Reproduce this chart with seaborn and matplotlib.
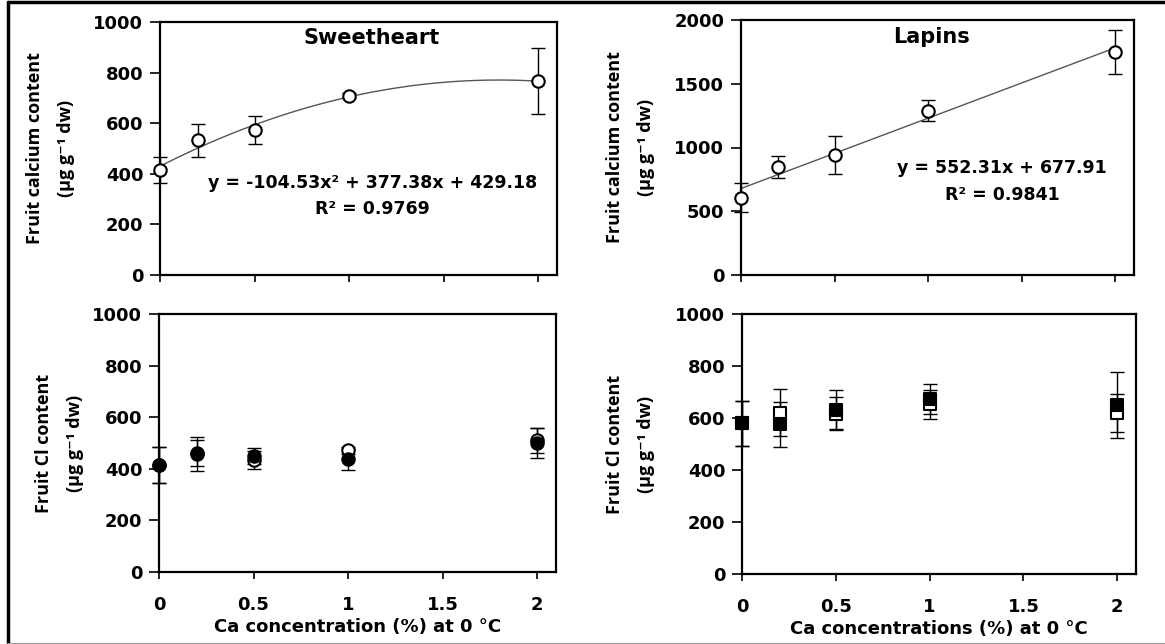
import matplotlib
matplotlib.use("Agg")
import matplotlib.pyplot as plt
import seaborn as sns
import pandas as pd
from matplotlib.lines import Line2D

# Ca concentrations applied (%)
conc = [0, 0.2, 0.5, 1, 2]

# Fruit calcium content (ug/g dw)
sweet_ca = [415, 533, 573, 708, 766]
sweet_ca_err = [53, 65, 55, 10, 131]
lapins_ca = [607, 848, 940, 1288, 1751]
lapins_ca_err = [115, 86, 147, 81, 172]

# Fruit Cl content (ug/g dw), open and filled series
sweet_cl_open = [414, 460, 435, 471, 510]
sweet_cl_open_err = [70, 50, 35, 15, 50]
sweet_cl_fill = [414, 458, 450, 437, 500]
sweet_cl_fill_err = [70, 65, 30, 40, 60]
lapins_cl_open = [579, 620, 617, 652, 620]
lapins_cl_open_err = [88, 90, 62, 55, 73]
lapins_cl_fill = [579, 576, 632, 672, 650]
lapins_cl_fill_err = [88, 87, 75, 57, 126]

xticks = [0, 0.5, 1, 1.5, 2]
sweet_eq = "y = -104.53x² + 377.38x + 429.18"
sweet_r2 = "R² = 0.9769"
lapins_eq = "y = 552.31x + 677.91"
lapins_r2 = "R² = 0.9841"

sns.set_style("ticks")
plt.rcParams['font.family'] = ['DejaVu Sans']
plt.rcParams['font.weight'] = 'bold'
for key in ['text.color', 'axes.labelcolor', 'xtick.color', 'ytick.color', 'axes.edgecolor']:
    plt.rcParams[key] = 'black'

W, H = 1165, 644
fig = plt.figure(figsize=(W / 100, H / 100), dpi=100)


def box(x0, x1, y0, y1):
    return [x0 / W, 1 - y1 / H, (x1 - x0) / W, (y1 - y0) / H]


ax_tl = fig.add_axes(box(160, 557, 22, 275))
ax_tr = fig.add_axes(box(741, 1134, 20, 275))
ax_bl = fig.add_axes(box(159, 556, 314, 572))
ax_br = fig.add_axes(box(742, 1136, 314, 574))

ylab_font = dict(family=['Open Sans', 'DejaVu Sans'], fontsize=13, fontweight='bold', linespacing=1.9)


def style(ax, ymax, ystep, show_x):
    ax.set_xlim(0, 2.1)
    ax.set_ylim(0, ymax)
    ax.set_xticks(xticks)
    ax.set_yticks(range(0, ymax + 1, ystep))
    ax.set_xticklabels(['0', '0.5', '1', '1.5', '2'] if show_x else [])
    for s in ax.spines.values():
        s.set_linewidth(1.6)
        s.set_color('black')
    ax.tick_params(axis='y', direction='out', length=7, width=1.2, labelsize=13, pad=5)
    ax.tick_params(axis='x', direction='out', length=5, width=1.2, labelsize=13, pad=12)
    for lab in ax.get_xticklabels() + ax.get_yticklabels():
        lab.set_fontweight('bold')
    ax.set_xlabel('')


def errs(ax, y, e):
    ax.errorbar(conc, y, yerr=e, fmt='none', ecolor='black', elinewidth=1,
                capsize=5, capthick=1, clip_on=False, zorder=2)


def pts(ax, y, marker, filled, z):
    df = pd.DataFrame({'conc': conc, 'val': y})
    sns.scatterplot(data=df, x='conc', y='val', ax=ax, marker=marker, s=85 if marker == 's' else 80,
                    facecolor='black' if filled else 'white', edgecolor='black',
                    linewidth=1.5, clip_on=False, zorder=z)


# top left: Sweetheart Ca
ca_sw = pd.DataFrame({'conc': conc, 'val': sweet_ca})
sns.regplot(data=ca_sw, x='conc', y='val', order=2, ci=None, scatter=False, ax=ax_tl,
            line_kws=dict(color='#555555', lw=1))
errs(ax_tl, sweet_ca, sweet_ca_err)
pts(ax_tl, sweet_ca, 'o', False, 3)
style(ax_tl, 1000, 200, False)
ax_tl.text(0.534, 0.935, 'Sweetheart', transform=ax_tl.transAxes, ha='center', va='center',
           fontsize=15, fontweight='bold')
ax_tl.text(0.535, 0.364, sweet_eq, transform=ax_tl.transAxes, ha='center', va='center',
           fontsize=12.5, fontweight='bold')
ax_tl.text(0.535, 0.262, sweet_r2, transform=ax_tl.transAxes, ha='center', va='center',
           fontsize=12.5, fontweight='bold')
ax_tl.set_ylabel('Fruit calcium content\n(µg g⁻¹ dw)', **ylab_font)
ax_tl.yaxis.set_label_coords(-0.214, 0.5)

# top right: Lapins Ca
ca_la = pd.DataFrame({'conc': conc, 'val': lapins_ca})
sns.regplot(data=ca_la, x='conc', y='val', order=1, ci=None, scatter=False, ax=ax_tr,
            line_kws=dict(color='#555555', lw=1))
errs(ax_tr, lapins_ca, lapins_ca_err)
pts(ax_tr, lapins_ca, 'o', False, 3)
style(ax_tr, 2000, 500, False)
ax_tr.text(0.486, 0.935, 'Lapins', transform=ax_tr.transAxes, ha='center', va='center',
           fontsize=15, fontweight='bold')
ax_tr.text(0.664, 0.42, lapins_eq, transform=ax_tr.transAxes, ha='center', va='center',
           fontsize=12.5, fontweight='bold')
ax_tr.text(0.664, 0.315, lapins_r2, transform=ax_tr.transAxes, ha='center', va='center',
           fontsize=12.5, fontweight='bold')
ax_tr.set_ylabel('Fruit calcium content\n(µg g⁻¹ dw)', **ylab_font)
ax_tr.yaxis.set_label_coords(-0.219, 0.5)

# bottom left: Sweetheart Cl
errs(ax_bl, sweet_cl_open, sweet_cl_open_err)
errs(ax_bl, sweet_cl_fill, sweet_cl_fill_err)
pts(ax_bl, sweet_cl_open, 'o', False, 3)
pts(ax_bl, sweet_cl_fill, 'o', True, 4)
style(ax_bl, 1000, 200, True)
ax_bl.set_ylabel('Fruit Cl content\n(µg g⁻¹ dw)', **ylab_font)
ax_bl.yaxis.set_label_coords(-0.189, 0.5)
ax_bl.set_xlabel('Ca concentration (%) at 0 °C', fontsize=13, fontweight='bold', labelpad=3)

# bottom right: Lapins Cl
errs(ax_br, lapins_cl_open, lapins_cl_open_err)
errs(ax_br, lapins_cl_fill, lapins_cl_fill_err)
pts(ax_br, lapins_cl_open, 's', False, 3)
pts(ax_br, lapins_cl_fill, 's', True, 4)
style(ax_br, 1000, 200, True)
ax_br.set_ylabel('Fruit Cl content\n(µg g⁻¹ dw)', **ylab_font)
ax_br.yaxis.set_label_coords(-0.221, 0.5)
ax_br.set_xlabel('Ca concentrations (%) at 0 °C', fontsize=13, fontweight='bold', labelpad=3)

# outer frame of the figure
fig.add_artist(Line2D([8 / W, 8 / W], [0, 1 - 2 / H], color='black', lw=2.5))
fig.add_artist(Line2D([8 / W, 1], [1 - 2 / H, 1 - 2 / H], color='black', lw=2.5))
fig.add_artist(Line2D([8 / W, 1], [0.5 / H, 0.5 / H], color='#999999', lw=1.5))

plt.savefig("out.png", dpi=100)
